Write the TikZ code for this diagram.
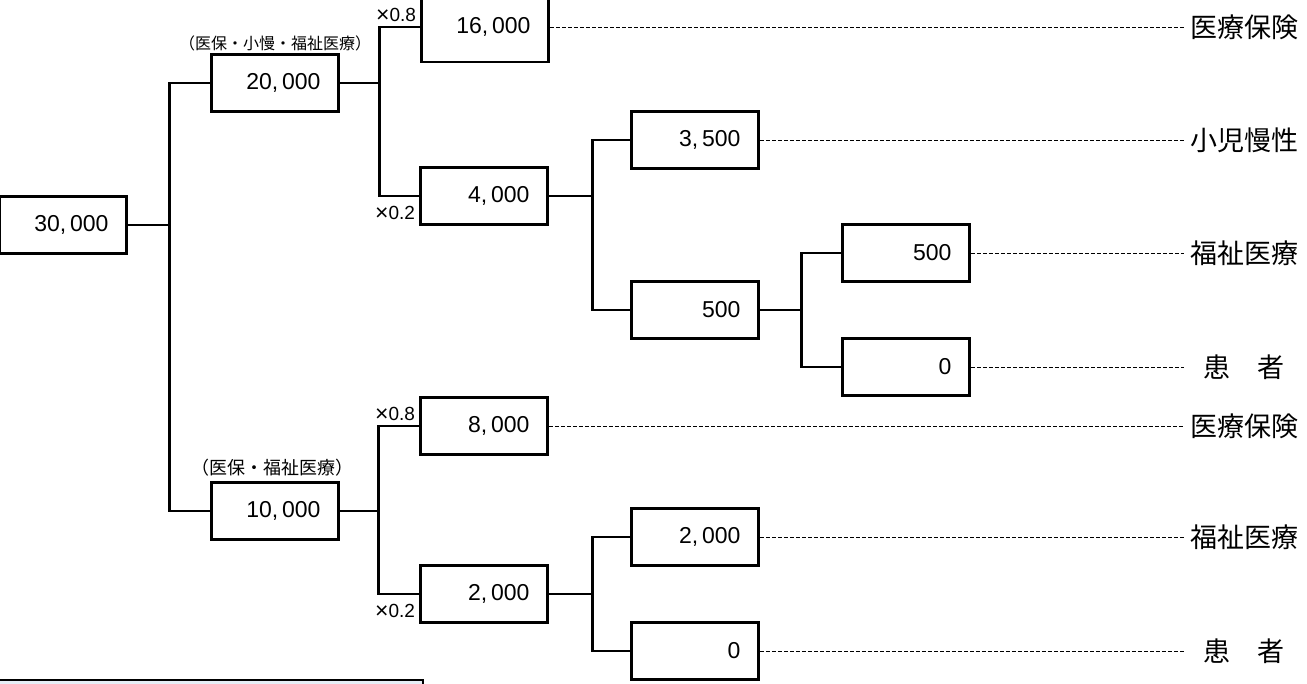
\documentclass[tikz,border=0pt]{standalone}
\usepackage{fontspec}
\setmainfont{Liberation Sans}
\newfontfamily\jpfont{Noto Sans CJK JP}
\usetikzlibrary{calc}
\definecolor{panelblue}{RGB}{230,238,246}
\newcommand{\bigtimes}{\raisebox{-1.5pt}{\fontsize{23}{19}\selectfont ×}}
\begin{document}
\begin{tikzpicture}[x=1pt,y=-1pt,
        amount/.style={draw,line width=2.5pt,fill=white,minimum width=127pt,minimum height=57pt,
            text width=91pt,align=right,inner sep=0pt,font=\fontsize{23}{23}\selectfont},
        payer/.style={text width=116pt,align=center,inner sep=2pt,font=\jpfont\fontsize{27}{27}\selectfont},
        rate/.style={inner sep=1pt,font=\fontsize{19}{19}\selectfont},
        group/.style={inner sep=0pt,font=\jpfont\fontsize{#1}{#1}\selectfont},
        tie/.style={line width=2.7pt},
        share/.style={line width=1pt,dash pattern=on 4pt off 2pt}]
        \clip (0,0) rectangle (1307,683);
        % amounts
        \node[amount] (b30) at (63,225) {30,\,000};
        \node[amount] (b20) at (275,83) {20,\,000};
        \node[amount] (b10) at (275,511) {10,\,000};
        \node[amount,minimum height=70pt] (b16) at (485,27) {16,\,000};
        \node[amount] (b4) at (484,196) {4,\,000};
        \node[amount] (b8) at (484,426) {8,\,000};
        \node[amount] (b2b) at (484,594) {2,\,000};
        \node[amount] (b35) at (695,140) {3,\,500};
        \node[amount] (b5b) at (695,310) {500};
        \node[amount] (b2a) at (695,537) {2,\,000};
        \node[amount] (b0b) at (695,651) {0};
        \node[amount] (b5a) at (906,253) {500};
        \node[amount] (b0a) at (906,367) {0};
        % group labels
        \node[group=16] (g20) at (275,43) {（医保・小慢・福祉医療）};
        \node[group=18] (g10) at (272,468) {（医保・福祉医療）};
        % branch points
        \coordinate (j1) at ($(b30.east)+(42,0)$);
        \coordinate (j2) at ($(b20.east)+(40,0)$);
        \coordinate (j3) at ($(b4.east)+(44,0)$);
        \coordinate (j4) at ($(b5b.east)+(42,0)$);
        \coordinate (j5) at ($(b10.east)+(39,0)$);
        \coordinate (j6) at ($(b2b.east)+(44,0)$);
        \draw[tie] (b30.east) -- (j1);
        \draw[tie] (b20.west) -| (j1) |- (b10.west);
        \draw[tie] (b20.east) -- (j2);
        \draw[tie] (b16.west) -| (j2) |- (b4.west);
        \draw[tie] (b4.east) -- (j3);
        \draw[tie] (b35.west) -| (j3) |- (b5b.west);
        \draw[tie] (b5b.east) -- (j4);
        \draw[tie] (b5a.west) -| (j4) |- (b0a.west);
        \draw[tie] (b10.east) -- (j5);
        \draw[tie] (b8.west) -| (j5) |- (b2b.west);
        \draw[tie] (b2b.east) -- (j6);
        \draw[tie] (b2a.west) -| (j6) |- (b0b.west);
        % rates
        \node[rate,anchor=south east] (r1) at ($(b16.west)+(-3,-3)$) {\bigtimes0.8};
        \node[rate,anchor=north east] (r2) at ($(b4.west)+(-3,9)$) {\bigtimes0.2};
        \node[rate,anchor=south east] (r3) at ($(b8.west)+(-3,-3)$) {\bigtimes0.8};
        \node[rate,anchor=north east] (r4) at ($(b2b.west)+(-3,9)$) {\bigtimes0.2};
        % payers
        \node[payer] (p1) at (1244,27) {医療保険};
        \node[payer] (p2) at (1244,140) {小児慢性};
        \node[payer] (p3) at (1244,253) {福祉医療};
        \node[payer] (p4) at (1244,367) {患　者};
        \node[payer] (p5) at (1244,426) {医療保険};
        \node[payer] (p6) at (1244,537) {福祉医療};
        \node[payer] (p7) at (1244,651) {患　者};
        \draw[share] (b16.east) -- (p1.west);
        \draw[share] (b35.east) -- (p2.west);
        \draw[share] (b5a.east) -- (p3.west);
        \draw[share] (b0a.east) -- (p4.west);
        \draw[share] (b8.east) -- (p5.west);
        \draw[share] (b2a.east) -- (p6.west);
        \draw[share] (b0b.east) -- (p7.west);
        % next panel, cut off
        \draw[line width=2.5pt,fill=panelblue] (-5,680) rectangle (423,720);
    \end{tikzpicture}
\end{document}
